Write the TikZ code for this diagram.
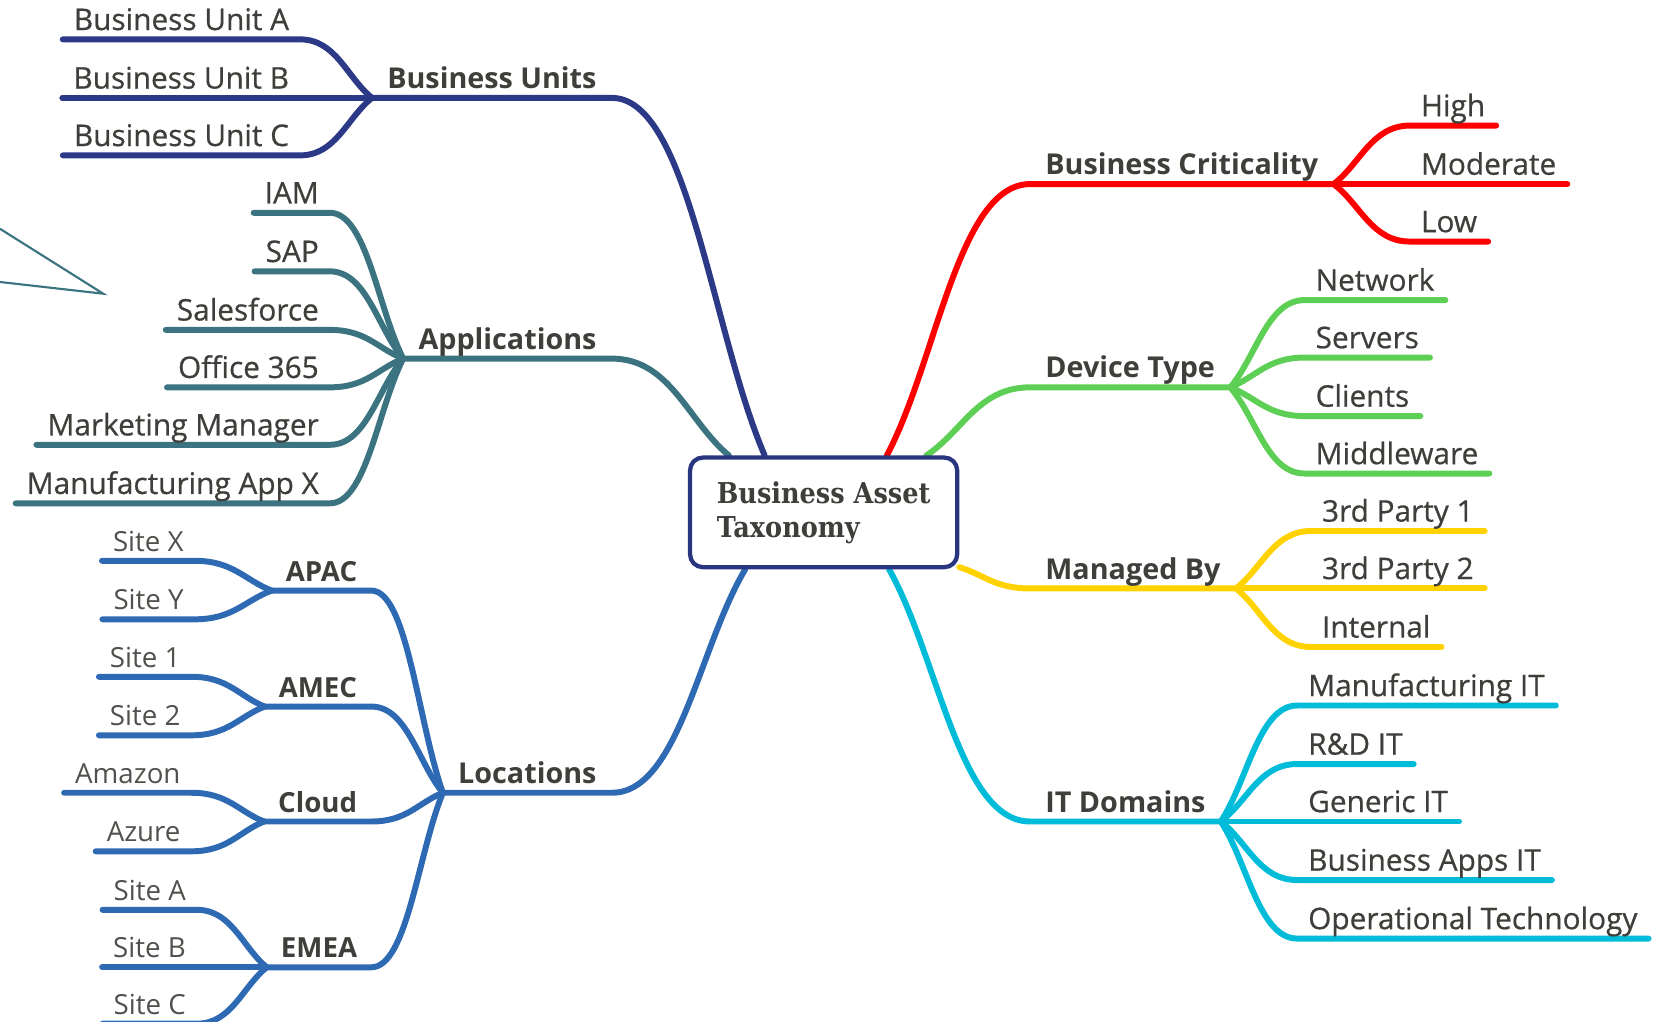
\documentclass[tikz,border=0pt]{standalone}
\usepackage{fontspec}
\setmainfont{Open Sans}
\newfontfamily\semifont{Open Sans}[FakeBold=0.6]
\newfontfamily\taxfont{DejaVu Serif}[FakeStretch=0.89]
\usepackage{tikz}
\usetikzlibrary{calc}
\pgfdeclarelayer{edgelayer}
\pgfdeclarelayer{nodelayer}
\pgfsetlayers{edgelayer,main,nodelayer}

\definecolor{ink}{RGB}{62,62,58}
\definecolor{inklight}{RGB}{80,80,76}
\definecolor{hubline}{RGB}{42,53,128}
\definecolor{units}{RGB}{43,57,135}
\definecolor{apps}{RGB}{59,116,128}
\definecolor{locs}{RGB}{46,106,179}
\definecolor{crit}{RGB}{255,0,0}
\definecolor{device}{RGB}{94,207,85}
\definecolor{managed}{RGB}{255,210,0}
\definecolor{domains}{RGB}{0,188,217}

\tikzset{
	leaf/.style={inner xsep=5pt, inner ysep=4.2pt, text depth=0pt, text=ink, font=\semifont\fontsize{14}{16}\selectfont},
	site/.style={leaf, text=inklight, font=\fontsize{13}{15}\selectfont},
	region/.style={leaf, inner xsep=6.5pt, font=\bfseries\fontsize{13}{15}\selectfont},
	topic/.style={leaf, inner xsep=7pt, font=\bfseries\fontsize{13.5}{16}\selectfont},
	hub/.style={draw=hubline, line width=2pt, rounded corners=6pt, fill=white, text=ink, align=left,
		minimum width=125.5pt, minimum height=51.5pt, font=\taxfont\bfseries\fontsize{13.5}{16}\selectfont},
	wire/.style={line width=2.8pt, line cap=round, line join=round},
	twig/.style={to path={.. controls ($(\tikztostart)!0.35!(\tikztotarget)$) and ($(\tikztotarget)!0.5!(\tikztostart|-\tikztotarget)$) .. (\tikztotarget)}},
}

\begin{document}
\begin{tikzpicture}[x=0.5pt, y=-0.5pt]
	\useasboundingbox (0,0) rectangle (1560,960);
	\begin{pgfonlayer}{nodelayer}
		\node [hub] (0) at (774,481.5) {Business Asset\\Taxonomy};
		% left side
		\node [topic, anchor=south east] (1) at (575,92) {Business Units};
		\node [leaf, anchor=south east] (2) at (282,37) {Business Unit A};
		\node [leaf, anchor=south east] (3) at (282,92) {Business Unit B};
		\node [leaf, anchor=south east] (4) at (282,146) {Business Unit C};
		\node [topic, anchor=south east] (5) at (575,337) {Applications};
		\node [leaf, anchor=south east] (6) at (310,200) {IAM};
		\node [leaf, anchor=south east] (7) at (310,255) {SAP};
		\node [leaf, anchor=south east] (8) at (310,310) {Salesforce};
		\node [leaf, anchor=south east] (9) at (310,364) {Office 365};
		\node [leaf, anchor=south east] (10) at (310,418) {Marketing Manager};
		\node [leaf, anchor=south east] (11) at (310,473) {Manufacturing App X};
		\node [topic, anchor=south east] (12) at (575,745) {Locations};
		\node [region, anchor=south east] (13) at (349,555) {APAC};
		\node [site, anchor=south east] (14) at (183,527) {Site X};
		\node [site, anchor=south east] (15) at (183,582) {Site Y};
		\node [region, anchor=south east] (16) at (349,664) {AMEC};
		\node [site, anchor=south east] (17) at (180,636) {Site 1};
		\node [site, anchor=south east] (18) at (180,691) {Site 2};
		\node [region, anchor=south east] (19) at (349,772) {Cloud};
		\node [site, anchor=south east] (20) at (180,745) {Amazon};
		\node [site, anchor=south east] (21) at (180,800) {Azure};
		\node [region, anchor=south east] (22) at (349,909) {EMEA};
		\node [site, anchor=south east] (23) at (185,855) {Site A};
		\node [site, anchor=south east] (24) at (185,909) {Site B};
		\node [site, anchor=south east] (25) at (185,962) {Site C};
		% right side
		\node [topic, anchor=south west] (26) at (968,173) {Business Criticality};
		\node [leaf, anchor=south west] (27) at (1325,118) {High};
		\node [leaf, anchor=south west] (28) at (1325,173) {Moderate};
		\node [leaf, anchor=south west] (29) at (1325,227) {Low};
		\node [topic, anchor=south west] (30) at (968,364) {Device Type};
		\node [leaf, anchor=south west] (31) at (1226,282) {Network};
		\node [leaf, anchor=south west] (32) at (1226,336) {Servers};
		\node [leaf, anchor=south west] (33) at (1226,391) {Clients};
		\node [leaf, anchor=south west] (34) at (1226,445) {Middleware};
		\node [topic, anchor=south west] (35) at (968,553) {Managed By};
		\node [leaf, anchor=south west] (36) at (1232,499) {3rd Party 1};
		\node [leaf, anchor=south west] (37) at (1232,553) {3rd Party 2};
		\node [leaf, anchor=south west] (38) at (1232,608) {Internal};
		\node [topic, anchor=south west] (39) at (968,772) {IT Domains};
		\node [leaf, anchor=south west] (40) at (1219,663) {Manufacturing IT};
		\node [leaf, anchor=south west] (41) at (1219,718) {R\&D IT};
		\node [leaf, anchor=south west] (42) at (1219,772) {Generic IT};
		\node [leaf, anchor=south west] (43) at (1219,827) {Business Apps IT};
		\node [leaf, anchor=south west] (44) at (1219,882) {Operational Technology};
		% callout tip
		\coordinate (45) at (97,276);
		\coordinate (46) at (0,215);
		\coordinate (47) at (0,265);
	\end{pgfonlayer}
	\begin{pgfonlayer}{edgelayer}
		\draw [wire, units] (0.136) to [twig] (1.south east) -- (1.south west);
		\draw [wire, units] (1.south west) to [twig] (2.south east) -- (2.south west);
		\draw [wire, units] (1.south west) to [twig] (3.south east) -- (3.south west);
		\draw [wire, units] (1.south west) to [twig] (4.south east) -- (4.south west);
		\draw [wire, apps] (0.149) to [twig] (5.south east) -- (5.south west);
		\draw [wire, apps] (5.south west) to [twig] (6.south east) -- (6.south west);
		\draw [wire, apps] (5.south west) to [twig] (7.south east) -- (7.south west);
		\draw [wire, apps] (5.south west) to [twig] (8.south east) -- (8.south west);
		\draw [wire, apps] (5.south west) to [twig] (9.south east) -- (9.south west);
		\draw [wire, apps] (5.south west) to [twig] (10.south east) -- (10.south west);
		\draw [wire, apps] (5.south west) to [twig] (11.south east) -- (11.south west);
		\draw [wire, locs] (0.216) to [twig] (12.south east) -- (12.south west);
		\draw [wire, locs] (12.south west) to [twig] (13.south east) -- (13.south west);
		\draw [wire, locs] (12.south west) to [twig] (16.south east) -- (16.south west);
		\draw [wire, locs] (12.south west) to [twig] (19.south east) -- (19.south west);
		\draw [wire, locs] (12.south west) to [twig] (22.south east) -- (22.south west);
		\draw [wire, locs] (13.south west) to [twig] (14.south east) -- (14.south west);
		\draw [wire, locs] (13.south west) to [twig] (15.south east) -- (15.south west);
		\draw [wire, locs] (16.south west) to [twig] (17.south east) -- (17.south west);
		\draw [wire, locs] (16.south west) to [twig] (18.south east) -- (18.south west);
		\draw [wire, locs] (19.south west) to [twig] (20.south east) -- (20.south west);
		\draw [wire, locs] (19.south west) to [twig] (21.south east) -- (21.south west);
		\draw [wire, locs] (22.south west) to [twig] (23.south east) -- (23.south west);
		\draw [wire, locs] (22.south west) to [twig] (24.south east) -- (24.south west);
		\draw [wire, locs] (22.south west) to [twig] (25.south east) -- (25.south west);
		\draw [wire, crit] (0.42) to [twig] (26.south west) -- (26.south east);
		\draw [wire, crit] (26.south east) to [twig] (27.south west) -- (27.south east);
		\draw [wire, crit] (26.south east) to [twig] (28.south west) -- (28.south east);
		\draw [wire, crit] (26.south east) to [twig] (29.south west) -- (29.south east);
		\draw [wire, device] (0.29) to [twig] (30.south west) -- (30.south east);
		\draw [wire, device] (30.south east) to [twig] (31.south west) -- (31.south east);
		\draw [wire, device] (30.south east) to [twig] (32.south west) -- (32.south east);
		\draw [wire, device] (30.south east) to [twig] (33.south west) -- (33.south east);
		\draw [wire, device] (30.south east) to [twig] (34.south west) -- (34.south east);
		\draw [wire, managed] (0.338) to [twig] (35.south west) -- (35.south east);
		\draw [wire, managed] (35.south east) to [twig] (36.south west) -- (36.south east);
		\draw [wire, managed] (35.south east) to [twig] (37.south west) -- (37.south east);
		\draw [wire, managed] (35.south east) to [twig] (38.south west) -- (38.south east);
		\draw [wire, domains] (0.319) to [twig] (39.south west) -- (39.south east);
		\draw [wire, domains] (39.south east) to [twig] (40.south west) -- (40.south east);
		\draw [wire, domains] (39.south east) to [twig] (41.south west) -- (41.south east);
		\draw [wire, domains] (39.south east) to [twig] (42.south west) -- (42.south east);
		\draw [wire, domains] (39.south east) to [twig] (43.south west) -- (43.south east);
		\draw [wire, domains] (39.south east) to [twig] (44.south west) -- (44.south east);
		\draw [apps, line width=1pt] (46) -- (45) -- (47);
	\end{pgfonlayer}
\end{tikzpicture}
\end{document}
